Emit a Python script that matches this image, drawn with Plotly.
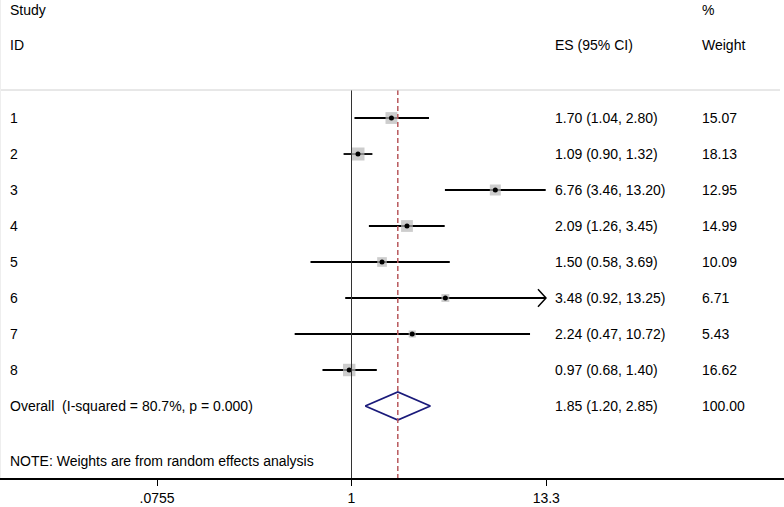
import numpy as np
import plotly.graph_objects as go

# ---- data ----
study_ids = ["1", "2", "3", "4", "5", "6", "7", "8"]
es = [1.70, 1.09, 6.76, 2.09, 1.50, 3.48, 2.24, 0.97]
lower = [1.04, 0.90, 3.46, 1.26, 0.58, 0.92, 0.47, 0.68]
upper = [2.80, 1.32, 13.20, 3.45, 3.69, 13.25, 10.72, 1.40]
arrow_right = [False, False, False, False, False, True, False, False]
weights = [15.07, 18.13, 12.95, 14.99, 10.09, 6.71, 5.43, 16.62]
es_labels = ["1.70 (1.04, 2.80)", "1.09 (0.90, 1.32)", "6.76 (3.46, 13.20)",
             "2.09 (1.26, 3.45)", "1.50 (0.58, 3.69)", "3.48 (0.92, 13.25)",
             "2.24 (0.47, 10.72)", "0.97 (0.68, 1.40)"]
weight_labels = ["15.07", "18.13", "12.95", "14.99", "10.09", "6.71", "5.43", "16.62"]
overall_label = "Overall  (I-squared = 80.7%, p = 0.000)"
overall_es, overall_lo, overall_hi = 1.85, 1.20, 2.85
overall_es_label = "1.85 (1.20, 2.85)"
overall_weight_label = "100.00"
tick_vals = [0.0755, 1, 13.3]
tick_text = [".0755", "1", "13.3"]

W, H = 784, 507
FONT = "Liberation Sans, Arial, sans-serif"
FS = 14
n = len(study_ids)
rows = [-(i + 1) for i in range(n)]
overall_row = -(n + 1)

fig = go.Figure()

# CI lines
for i in range(n):
    fig.add_trace(go.Scatter(x=[lower[i], upper[i]], y=[rows[i], rows[i]], mode="lines",
                             line=dict(color="black", width=1.8), hoverinfo="skip",
                             showlegend=False))
    if arrow_right[i]:
        f = 10 ** (8 / 173.3)
        fig.add_trace(go.Scatter(x=[upper[i] / f, upper[i], upper[i] / f],
                                 y=[rows[i] + 0.24, rows[i], rows[i] - 0.24],
                                 mode="lines", line=dict(color="black", width=1.5),
                                 hoverinfo="skip", showlegend=False))

# weight squares
sizes = [3.05 * np.sqrt(w) for w in weights]
fig.add_trace(go.Scatter(x=es, y=rows, mode="markers",
                         marker=dict(symbol="square", size=sizes, color="#b8b8b8",
                                     line=dict(width=0)),
                         hoverinfo="skip", showlegend=False))
fig.add_trace(go.Scatter(x=es, y=rows, mode="markers",
                         marker=dict(symbol="circle", size=5, color="black"),
                         hoverinfo="skip", showlegend=False))

# diamond
dh = 0.39
fig.add_trace(go.Scatter(x=[overall_lo, overall_es, overall_hi, overall_es, overall_lo],
                         y=[overall_row, overall_row + dh, overall_row, overall_row - dh, overall_row],
                         mode="lines", line=dict(color="#1a1a7a", width=1.8),
                         hoverinfo="skip", showlegend=False))

y_top_line = -0.222
y_bottom = -11
# vertical null line and overall dashed line
fig.add_trace(go.Scatter(x=[1, 1], y=[y_top_line, y_bottom], mode="lines",
                         line=dict(color="#333333", width=1), hoverinfo="skip", showlegend=False))
fig.add_trace(go.Scatter(x=[overall_es, overall_es], y=[y_top_line, y_bottom], mode="lines",
                         line=dict(color="#b8585c", width=1.5, dash="5px,3px"),
                         hoverinfo="skip", showlegend=False))

# light horizontal separator
fig.add_shape(type="line", xref="paper", yref="y", x0=0, x1=780 / W,
              y0=y_top_line, y1=y_top_line, line=dict(color="#d0d0d0", width=1))
fig.add_shape(type="line", xref="paper", yref="paper", x0=0.5 / W, x1=0.5 / W,
              y0=0, y1=1, line=dict(color="#eeeeee", width=1))

ann = []
def txt(x_px, y, s):
    ann.append(dict(x=x_px / W, xref="paper", y=y, yref="y", text=s, showarrow=False,
                    xanchor="left", yanchor="middle", font=dict(family=FONT, size=FS, color="black")))

txt(8, 2.0, "Study")
txt(8, 1.03, "ID")
txt(553, 1.03, "ES (95% CI)")
txt(700, 2.0, "%")
txt(700, 1.03, "Weight")
for i in range(n):
    txt(8, rows[i], study_ids[i])
    txt(553, rows[i], es_labels[i])
    txt(700, rows[i], weight_labels[i])
txt(8, overall_row, overall_label)
txt(553, overall_row, overall_es_label)
txt(700, overall_row, overall_weight_label)
txt(8, -10.53, "NOTE: Weights are from random effects analysis")

lo_log = -351.5 / 173.3
hi_log = (W - 351.5) / 173.3

fig.update_layout(
    width=W, height=H,
    margin=dict(l=0, r=0, t=0, b=29),
    paper_bgcolor="white", plot_bgcolor="white",
    annotations=ann,
    xaxis=dict(type="log", range=[lo_log, hi_log], tickvals=tick_vals, ticktext=tick_text,
               showgrid=False, zeroline=False, showline=True, linecolor="black", linewidth=1.5,
               ticks="outside", ticklen=6, tickcolor="black",
               tickfont=dict(family=FONT, size=FS, color="black")),
    yaxis=dict(range=[y_bottom, 2.278], showgrid=False, zeroline=False, showticklabels=False,
               showline=False),
)

fig.write_html("out.html", config={"displayModeBar": False},
               post_script="document.body.style.margin='0';document.body.style.padding='0';")
